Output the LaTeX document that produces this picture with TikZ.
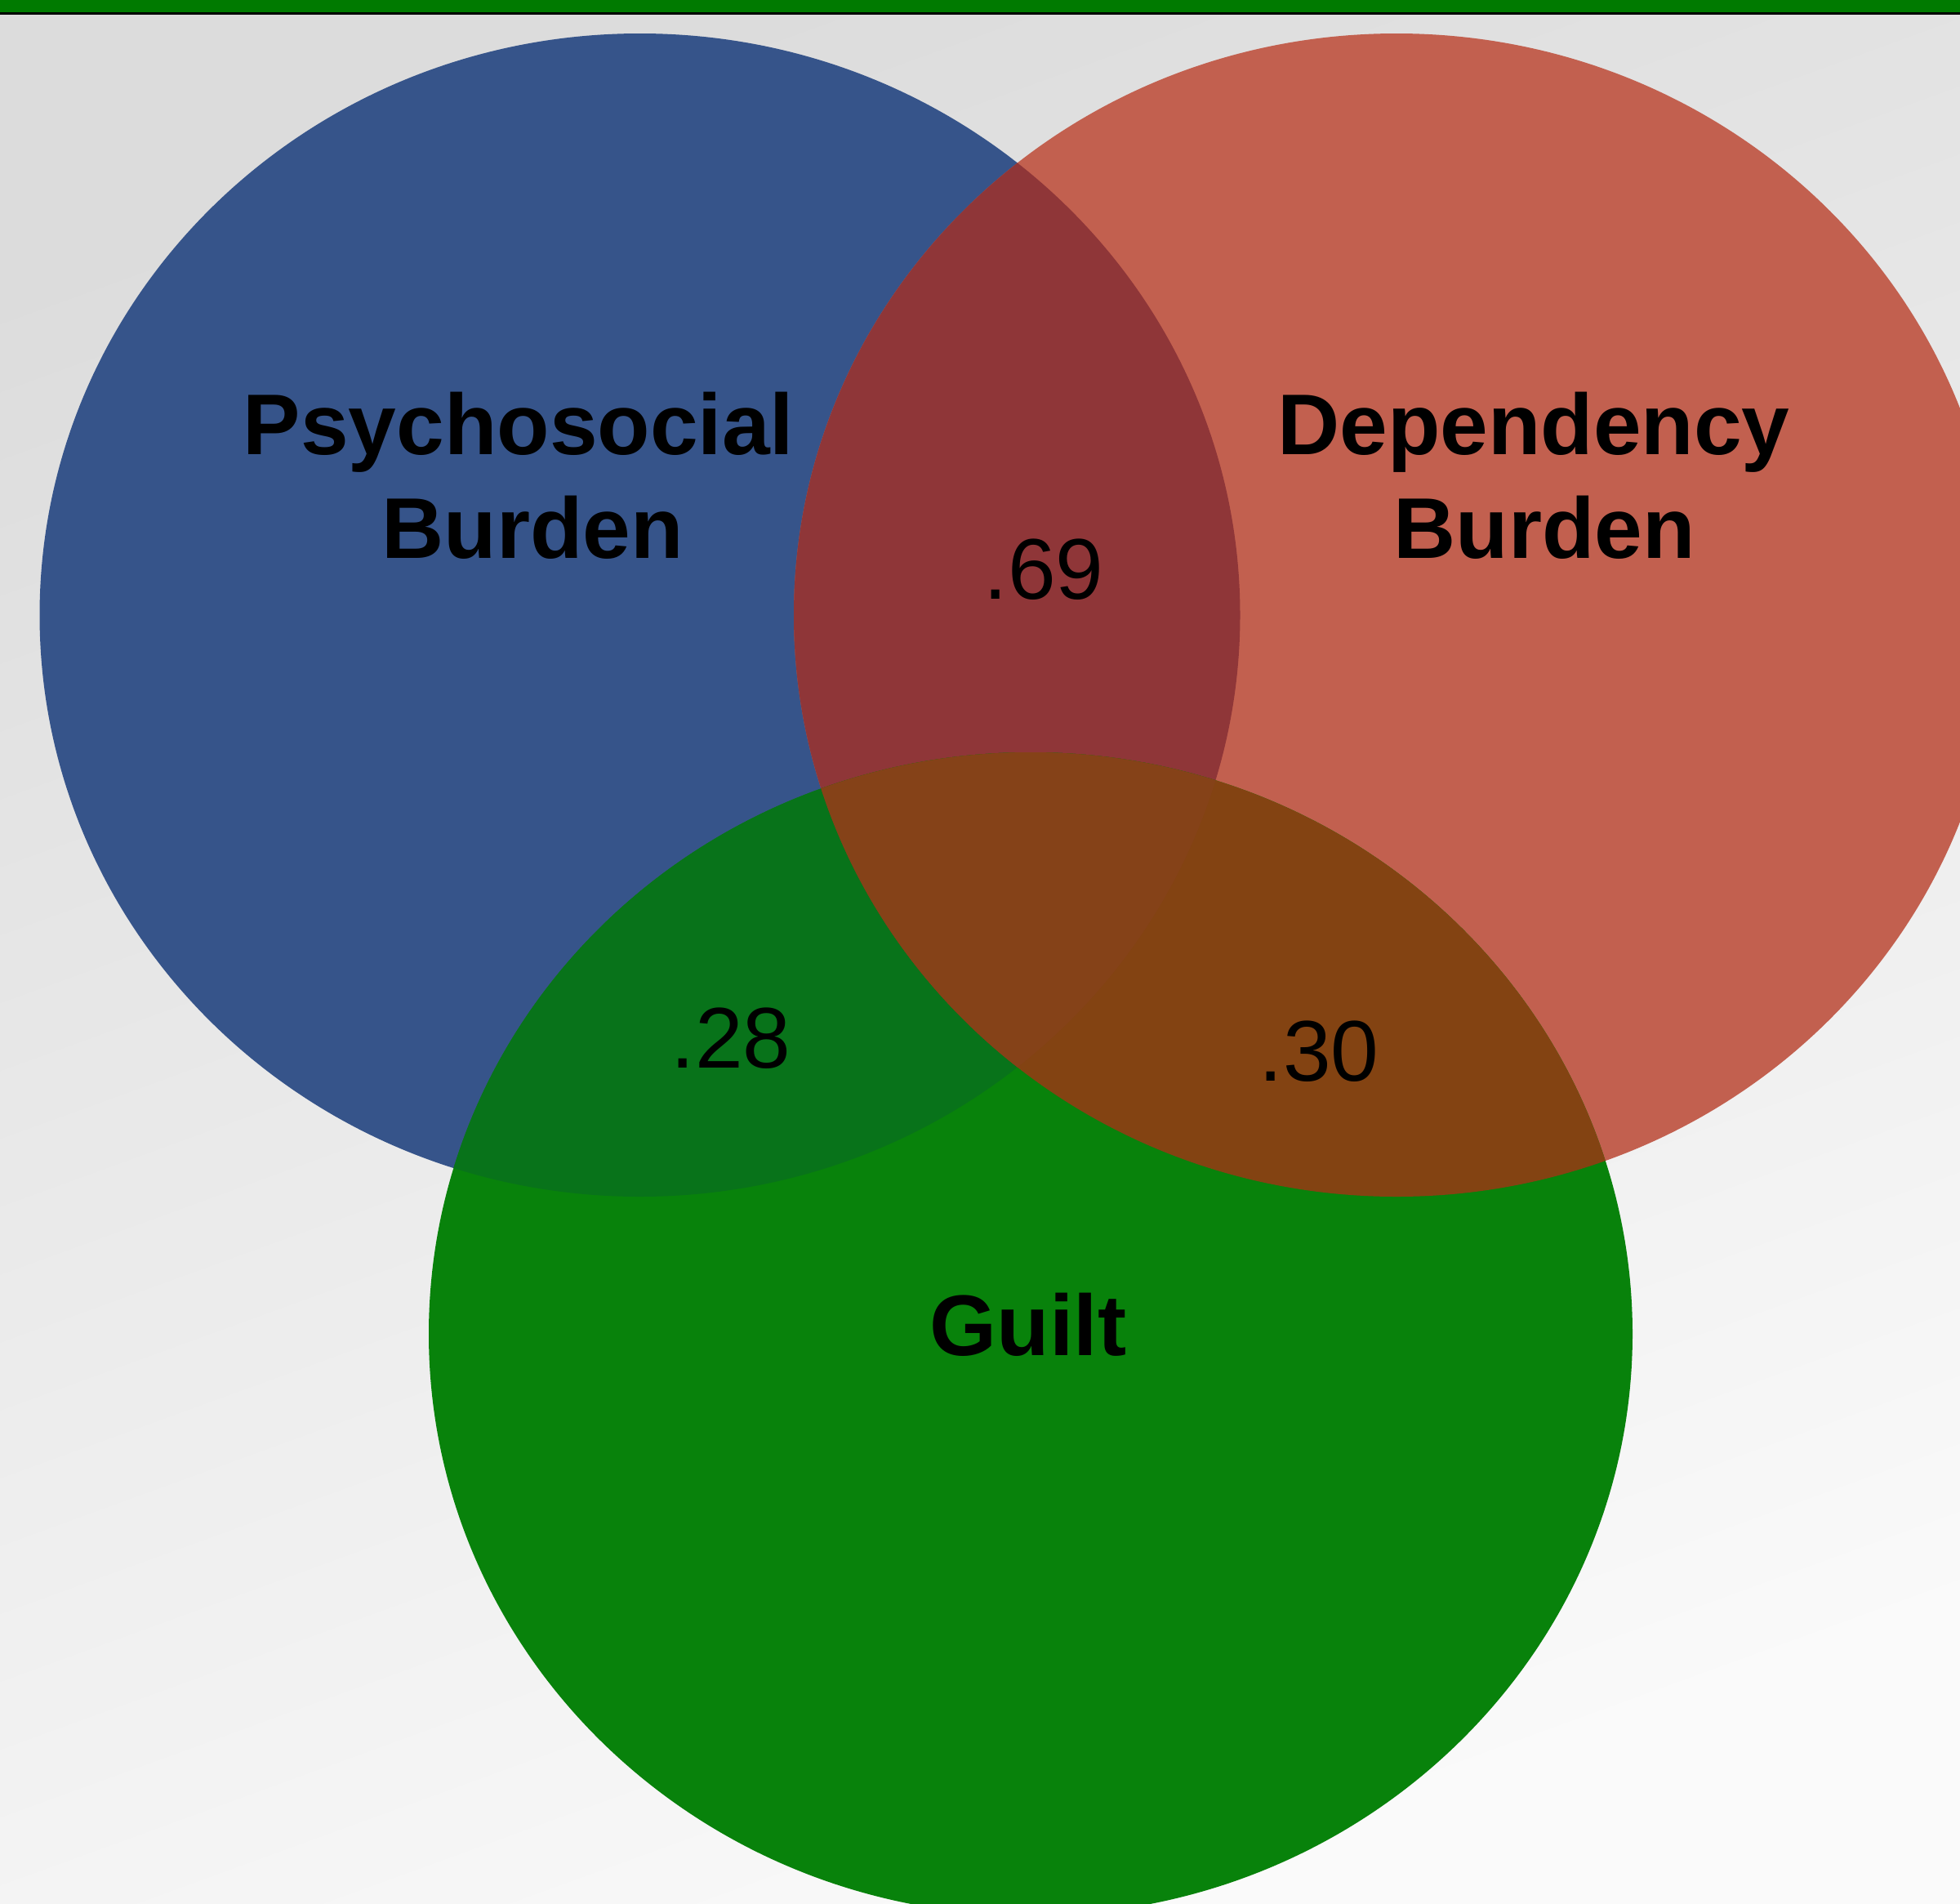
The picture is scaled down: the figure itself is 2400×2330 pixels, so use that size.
\documentclass[tikz,border=0pt]{standalone}
\usepackage{fontspec}
\setmainfont{Liberation Sans}
\definecolor{cblue}{RGB}{54,84,138}
\definecolor{cred}{RGB}{194,96,79}
\definecolor{credblue}{RGB}{143,54,56}
\definecolor{cgreen}{RGB}{8,130,11}
\definecolor{cgreenblue}{RGB}{8,115,26}
\definecolor{cgreenred}{RGB}{131,67,18}
\definecolor{ctriple}{RGB}{133,66,24}
\definecolor{cbar}{RGB}{0,122,0}
\definecolor{bgtop}{RGB}{220,220,220}
\definecolor{bgmid}{RGB}{242,242,242}
\definecolor{bgbot}{RGB}{250,250,250}
\begin{document}
\begin{tikzpicture}[x=0.01cm,y=-0.01cm,
  lbl/.style={inner sep=0pt,anchor=base,font=\fontsize{30}{36}\selectfont\bfseries},
  num/.style={inner sep=0pt,anchor=base,font=\fontsize{30}{36}\selectfont}]
\def\blueE{(783.5,753) ellipse [x radius=735, y radius=712]}
\def\redE{(1710,753) ellipse [x radius=738, y radius=712]}
\def\greenE{(1262,1633) ellipse [x radius=737, y radius=712]}
\useasboundingbox (0,0) rectangle (2400,2330);
% background
\shade[top color=bgtop,middle color=bgmid,bottom color=bgbot,shading angle=20] (0,0) rectangle (2400,2330);
\fill[cbar] (0,0) rectangle (2400,15);
\fill[black] (0,15) rectangle (2400,17.5);
% circles
\fill[cblue] \blueE;
\fill[cred] \redE;
\begin{scope}
  \clip \blueE;
  \fill[credblue] \redE;
\end{scope}
\fill[cgreen] \greenE;
\begin{scope}
  \clip \greenE;
  \fill[cgreenblue] \blueE;
  \fill[cgreenred] \redE;
  \clip \blueE;
  \fill[ctriple] \redE;
\end{scope}
% labels
\node[lbl] (psy1) at (635,556) {Psychosocial};
\node[lbl] (psy2) at (652,683) {Burden};
\node[lbl] (dep1) at (1878,556) {Dependency};
\node[lbl] (dep2) at (1891,683) {Burden};
\node[lbl] (guilt) at (1259,1659) {Guilt};
\node[num] (v69) at (1278,733) {.69};
\node[num] (v28) at (895,1307) {.28};
\node[num] (v30) at (1615,1323) {.30};
\end{tikzpicture}
\end{document}
